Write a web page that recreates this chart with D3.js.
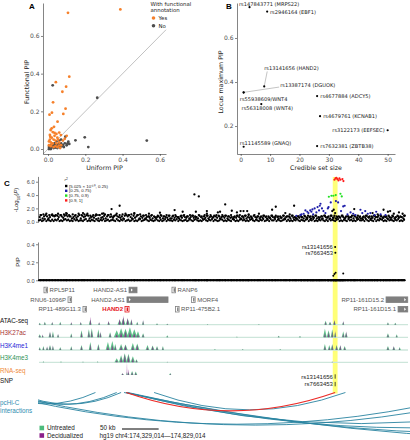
<!DOCTYPE html>
<html><head><meta charset="utf-8">
<script src="https://cdn.jsdelivr.net/npm/d3@7"></script>
<style>body{margin:0;background:#fff}svg{display:block}</style>
</head><body>
<svg id="c" width="410" height="440"></svg>
<script>
// ================= DATA =================
// Panel A: [uniform PIP, functional PIP]
const aYes = [[0.388,0.741],[0.107,0.723],[0.114,0.384],[0.042,0.355],[0.097,0.331],[0.077,0.304],[0.027,0.248],[0.094,0.214],[0.021,0.193],[0.082,0.186],[0.008,0.182],[0.051,0.145],[0.032,0.118],[0.014,0.101],[0.060,0.087],[0.069,0.074],[0.02,0.11],[0.025,0.09],[0.01,0.075],[0.035,0.07],[0.045,0.08],[0.05,0.06],[0.02,0.06],[0.03,0.05],[0.04,0.045],[0.01,0.05],[0.015,0.035],[0.025,0.03],[0.045,0.03],[0.055,0.05],[0.06,0.035],[0.07,0.02],[0.08,0.045],[0.005,0.02],[0.015,0.015],[0.03,0.01],[0.05,0.01],[0.065,0.005],[0.09,0.055],[0.1,0.07],[0.012,0.065],[0.035,0.085],[0.005,0.04],[0.02,0.025],[0.04,0.015],[0.058,0.018]];
const aNo = [[0.025,0.338],[0.264,0.272],[0.53,0.045],[0.197,0.062],[0.216,0.01],[0.147,0.046],[0.109,0.039],[0.114,0.027],[0.093,0.065],[0.105,0.03],[0.01,0.005],[0.02,0.01],[0.03,0.005],[0.04,0.02],[0.05,0.015],[0.06,0.02],[0.07,0.03],[0.08,0.02],[0.045,0.04],[0.035,0.03],[0.055,0.025],[0.065,0.01],[0.075,0.015],[0.09,0.03],[0.015,0.02],[0.025,0.015],[0.005,0.01],[0.05,0.005],[0.085,0.01],[0.06,0.045],[0.07,0.05],[0.04,0.008],[0.1,0.02],[0.005,0.0],[0.015,0.0],[0.03,0.02]];
const aTicks = [0, 0.2, 0.4, 0.6];

// Panel B
const bLabels = ["rs147843771 (MRPS22)","rs2946164 (EBF1)","rs13141656 (HAND2)","rs13387174 (DGUOK)","rs55938609/WNT4","rs56318008 (WNT4)","rs4677884 (ADCY5)","rs4679761 (KCNAB1)","rs3122173 (EEFSEC)","rs7632381 (ZBTB38)","rs11145589 (GNAQ)"];
const bSize = [3, 9, 8, 1, 1, 7, 26, 27, 50, 26, 1];
const bPip  = [0.74, 0.72, 0.38, 0.353, 0.352, 0.30, 0.336, 0.245, 0.181, 0.109, 0.106];
const bXTicks = [0, 10, 20, 30, 40, 50];
const bYTicks = [0.2, 0.4, 0.6];

// Panel C: Manhattan, -log10(P) in tenths (hex digit / 10)
const lowBand = ["2312413213","1324121342","3121423122","1341213214","2132412312","3214213241","2312412134","1234213212","4213124132","2132413212","3124213421","2134213241","3212431213","2143121342","3121342132","1324123142","2413212341","3121324213","2134132412","1324213142","3213412132","1423121342","2314213214","1324312142","3213241213"].join("");
const midBand = ["7a58a857a9","8a97a869a8","a857968a59","78a957869a","5a67958a78","69a876859a","8a75968a58","6957869586","7869587695","5968758697","6857968759","7586957869","8695786958","6758697586","9576859768","5869758697","6975869578","8596758697","5869758695","7685976859","6957869758","8679586975","5869785697","7958687596","6857968759"].join("");
const upperBand = ["abcab","9cabc","8baca","bc9ab","acbab","8cabc","abcab","9a8a7","9a8a9","8a79a","8a97a","8a9a7","a8a98","a79a8","9a7a8","79869","78698","79687","96879","68979","68796","87968","79689","79687","96879"].join("");
// [kb offset, -log10 P]
const blackHigh = [[99,1.9],[110,2.4],[212,4.1],[218,3.8],[254,2.6],[323,2.25],[348,2.4],[479,1.6],[470,1.8],[185,1.75],[196,1.5],[214,1.5],[229,1.6],[244,1.4],[247,1.5],[263,1.65],[270,1.4],[275,1.6],[279,1.6],[284,1.6],[286,1.1],[229,1.2],[318,1.8],[400,1.6],[402,1.8],[404,1.3],[430,1.9],[476,1.5],[484,1.2],[491,1.4],[37,1.3],[60,1.3],[88,1.25],[130,1.3],[150,1.2],[165,1.35],[300,1.2],[336,1.3],[342,1.1],[455,1.3],[462,1.1],[496,1.2]];
const bluePts = [[356.6,1.0],[361,1.2],[363.4,1.7],[366,1.5],[367.5,1.3],[370,1.7],[371.6,1.5],[373,1.85],[374,1.1],[376,2.0],[378.4,1.4],[380,2.2],[382,1.7],[383,2.4],[384,2.7],[386,2.0],[388,1.6],[390.7,1.3],[394,2.0],[395,2.2],[398,2.9],[405,3.1],[408,2.9],[412,1.6],[415,2.3],[417,2.4],[420.8,1.1],[425,1.4],[428.6,1.2],[431.7,1.0],[438.5,1.8],[441,1.3],[445,1.6],[448.5,1.2],[452,1.3],[457.7,1.0],[460,1.5],[466,1.1],[472.7,1.0],[358,1.1],[351,0.9]];
const greenPts = [[395.4,3.75],[398.9,3.9],[401.6,3.9],[404.8,4.0],[411.2,4.2],[413,3.8]];
const redPts = [[403,6.3],[404.4,6.5],[405.7,6.6],[407,6.4],[408.5,6.2],[409.8,6.5],[411.2,6.3],[413.9,6.4],[415.3,6.1]];
const mTicks = [0, 2, 4, 6];
const r2Labels = ["[5.025 × 10⁻¹⁰, 0.25)","[0.25, 0.75)","[0.75, 0.9)","[0.9, 1]"];
// PIP (non-zero SNPs)
const pipPts = [[404,0.37,"rs13141656"],[404.3,0.305,"rs7663453"],[401.5,0.05,""],[403,0.07,""],[404.6,0.085,""],[415,0.075,""]];
const pipTicks = [0, 0.2, 0.4];
const leadKb = 404;
// genes: name, start kb, end kb, row, label side
const geneNames = ["RPL5P11","HAND2-AS1","RANP6","RNU6-1096P","HAND2-AS1","MORF4","RP11-161D15.2","RP11-489G11.3","HAND2","RP11-475B2.1","RP11-161D15.1"];
const geneStart = [6.8,122.8,181.4,39.6,120,208,473.4,60,117.3,186.2,489.8];
const geneEnd   = [10.9,133.7,186.2,43.7,176,213,503,64.8,122.8,190.3,503];
const geneRow   = [0,0,0,1,1,1,1,2,2,2,2];
const geneSide  = ["r","l","r","l","l","r","l","l","l","r","l"];
// signal peaks: [kb, half width kb, untreated height, decidualized height]
const atacPeaks = [[1,1.5,0.2,0.15],[8,1.5,0.3,0.25],[18,1.5,0.25,0.3],[29,1.5,0.3,0.2],[44,1.5,0.2,0.3],[57,1.5,0.25,0.3],[70,2,0.5,0.8],[82,1.5,0.2,0.3],[95,2,0.3,0.4],[110,3,0.5,0.6],[115,3,0.7,0.9],[121,3,0.6,0.7],[126,2,0.5,0.6],[134,1.5,0.3,0.2],[142,1.5,0.4,0.5],[161,1.5,0.15,0.1],[175,1.5,0.1,0.1],[230,1,0.08,0.05],[300,1,0.08,0.05],[391,2,0.4,0.3],[397,2,0.3,0.25],[403,2,0.4,0.5],[415,1.5,0.3,0.4],[476,1.5,0.25,0.2],[486,1.5,0.2,0.15]];
const h3k27acPeaks = [[1,2,0.3,0.2],[5,1.5,0.2,0.3],[15,2,0.5,0.6],[19,1.5,0.6,0.4],[26,1.5,0.3,0.35],[44,1.5,0.4,0.3],[58,2,0.7,0.5],[68,2,0.8,0.6],[72,2,0.9,0.7],[81,2,0.8,0.5],[84,1.5,0.5,0.6],[97,2,0.5,0.4],[106,4,0.7,0.3],[112,4,0.9,0.5],[118,4,0.85,0.6],[124,4,1.0,0.5],[130,4,0.8,0.4],[135,3,0.6,0.3],[142,2,0.4,0.3],[175,1.5,0.2,0.1],[270,1,0.08,0.05],[327,1.5,0.15,0.1],[356,1.5,0.12,0.08],[390,2.5,0.85,0.4],[395,2.5,0.7,0.5],[400,2,0.8,0.6],[404,1.5,0.5,0.7],[415,2,0.6,0.4],[419,2,0.5,0.6],[476,2,0.4,0.3],[488,1.5,0.3,0.2]];
const h3k4me1Peaks = [[1,1.5,0.3,0.2],[6,1.5,0.4,0.3],[11,1.5,0.3,0.4],[15,2,0.5,0.4],[19,1.5,0.4,0.5],[29,1.5,0.3,0.2],[44,1.5,0.4,0.3],[58,2,0.5,0.4],[70,2,0.8,0.6],[81,2,0.6,0.5],[94,3,0.8,0.4],[100,3,0.9,0.5],[104,2,0.6,0.4],[112,3,0.6,0.4],[118,3,0.55,0.5],[128,3,0.7,0.4],[134,3,0.65,0.5],[148,2.5,0.5,0.3],[155,2.5,0.45,0.4],[161,2,0.4,0.3],[169,1.5,0.4,0.3],[240,1,0.1,0.05],[278,1,0.1,0.08],[329,1,0.1,0.05],[390,2,0.6,0.4],[396,2,0.5,0.3],[400,2,0.6,0.5],[406,2,0.5,0.4],[411,2,0.45,0.5],[417,2,0.4,0.3],[476,2,0.4,0.3],[484,2,0.35,0.4],[492,1.5,0.3,0.2]];
const h3k4me3Peaks = [[6,1,0.1,0.05],[30,1,0.1,0.05],[60,1,0.08,0.05],[80,1,0.1,0.05],[106,3,0.4,0.2],[112,3,0.7,0.5],[117,3,0.9,0.8],[122,3,0.85,0.7],[128,3,0.6,0.4],[133,2,0.3,0.2],[175,1,0.05,0.05],[400,1,0.08,0.05]];
const rnaPeaks = [[114,2,0.15,0.2],[120,1,0.3,1.3],[122,1.5,0.3,0.6],[127,2,0.4,0.3],[132,2,0.35,0.25],[179,1.5,0.2,0.15]];
const trackNames = ["ATAC-seq","H3K27ac","H3K4me1","H3K4me3","RNA-seq"];
// SNP row
const snpNames = ["rs13141656","rs7663453"];
// pcHi-C interactions [kb start, kb end]
const arcsTeal = [[-60,77],[-40,106],[-30,112],[-60,600],[-50,640],[119,760],[119,900],[121,1100],[116,1350],[157,418]];
const arcsRed = [[119,404]];

// ================= DRAW =================
const svg = d3.select("#c");
const FA = "DejaVu Sans, sans-serif";
const FC = "Liberation Sans, Arial, sans-serif";
function styleAxis(g, fs, ff){
  g.attr("font-size", fs).attr("font-family", ff);
  g.select(".domain").attr("stroke","#333").attr("stroke-width",0.6);
  g.selectAll(".tick line").attr("stroke","#333").attr("stroke-width",0.6);
  g.selectAll(".tick text").attr("fill","#4d4d4d");
}

// ---------- Panel A ----------
const xA = d3.scaleLinear([-0.027,0.633],[43,166]);
const yA = d3.scaleLinear([-0.0265,0.775],[154,3]);
const gA = svg.append("g");
gA.append("line").attr("x1",xA(-0.027)).attr("y1",yA(-0.027)).attr("x2",xA(0.633)).attr("y2",yA(0.633))
  .attr("stroke","#a6a6a6").attr("stroke-width",0.7);
gA.append("g").attr("transform","translate(0,154)")
  .call(d3.axisBottom(xA).tickValues(aTicks).tickFormat(d3.format(".1f")).tickSize(2).tickSizeOuter(0).tickPadding(1.5))
  .call(g=>styleAxis(g,6,FA));
gA.append("g").attr("transform","translate(43,0)")
  .call(d3.axisLeft(yA).tickValues(aTicks).tickFormat(d3.format(".1f")).tickSize(2).tickSizeOuter(0).tickPadding(1.5))
  .call(g=>styleAxis(g,6,FA));
gA.selectAll("circle.no").data(aNo).join("circle").attr("class","no")
  .attr("cx",d=>xA(d[0])).attr("cy",d=>yA(d[1])).attr("r",1.4).attr("fill","#4d4d4d");
gA.selectAll("circle.yes").data(aYes).join("circle").attr("class","yes")
  .attr("cx",d=>xA(d[0])).attr("cy",d=>yA(d[1])).attr("r",1.4).attr("fill","#f6802a");
gA.append("text").attr("x",104.5).attr("y",170).attr("text-anchor","middle").attr("font-family",FA).attr("font-size",6.3).attr("fill","#222").text("Uniform PIP");
gA.append("text").attr("transform","translate(29,82) rotate(-90)").attr("text-anchor","middle").attr("font-family",FA).attr("font-size",6.3).attr("fill","#222").text("Functional PIP");
gA.append("text").attr("x",29).attr("y",9).attr("font-family",FC).attr("font-weight","bold").attr("font-size",8).text("A");
// legend
const lg = gA.append("g").attr("font-family",FA).attr("font-size",5.4).attr("fill","#222");
lg.append("text").attr("x",150.5).attr("y",5.5).text("With functional");
lg.append("text").attr("x",150.5).attr("y",12).text("annotation");
[["Yes","#f6802a",18],["No","#4d4d4d",25.8]].forEach(([t,c,y])=>{
  lg.append("circle").attr("cx",153.5).attr("cy",y).attr("r",1.8).attr("fill",c);
  lg.append("text").attr("x",158.5).attr("y",y+2).text(t);
});

// ---------- Panel B ----------
const xB = d3.scaleLinear([-1.26,52.5],[237,395]);
const yB = d3.scaleLinear([0.073,0.759],[154,3]);
const gB = svg.append("g");
gB.append("g").attr("transform","translate(0,154)")
  .call(d3.axisBottom(xB).tickValues(bXTicks).tickSize(2).tickSizeOuter(0).tickPadding(1.5))
  .call(g=>styleAxis(g,6,FA));
gB.append("g").attr("transform","translate(237,0)")
  .call(d3.axisLeft(yB).tickValues(bYTicks).tickFormat(d3.format(".1f")).tickSize(2).tickSizeOuter(0).tickPadding(1.5))
  .call(g=>styleAxis(g,6,FA));
gB.append("text").attr("x",316).attr("y",170).attr("text-anchor","middle").attr("font-family",FA).attr("font-size",6.3).attr("fill","#222").text("Credible set size");
gB.append("text").attr("transform","translate(223,82) rotate(-90)").attr("text-anchor","middle").attr("font-family",FA).attr("font-size",6.3).attr("fill","#222").text("Locus maximum PIP");
gB.append("text").attr("x",226).attr("y",9).attr("font-family",FC).attr("font-weight","bold").attr("font-size",8).text("B");
const bPts = bLabels.map((l,i)=>({l, x:xB(bSize[i]), y:yB(bPip[i])}));
// label offsets [dx, dy (text centre), anchor, leader]
const bOff = [[-10.5,-3.3,"start",0],[2.8,0.6,"start",0],[0,-18.5,"start",1],[36.5,-6.8,"start",1],[-3.8,6.5,"start",0],[-19.7,4.3,"start",0],[3.2,0,"start",0],[3.2,0,"start",0],[-3,0,"end",0],[3.2,0,"start",0],[-3.8,-4,"start",0]];
bPts.forEach((p,i)=>{
  const o = bOff[i];
  if(o[3]){
    const tx = p.x+o[0]+(i===2?3:-1), ty = p.y+o[1]+(i===2?3.5:1.5);
    gB.append("line").attr("x1",p.x).attr("y1",p.y).attr("x2",tx).attr("y2",ty).attr("stroke","#888").attr("stroke-width",0.5);
  }
  gB.append("text").attr("x",p.x+o[0]).attr("y",p.y+o[1]+1.8).attr("text-anchor",o[2])
    .attr("font-family",FA).attr("font-size",5.1).attr("fill","#222").text(p.l);
});
gB.selectAll("circle.b").data(bPts).join("circle").attr("class","b")
  .attr("cx",d=>d.x).attr("cy",d=>d.y).attr("r",1.1).attr("fill","#000");

// ---------- Panel C ----------
const xC = d3.scaleLinear([0,502],[39,407]);
const yM = d3.scaleLinear([-0.1,6.8],[222.4,176.4]);
const yP = d3.scaleLinear([-0.005,0.425],[280.75,242]);
const hex = c=>parseInt(c,16)/10;
const bg = [];
lowBand.split("").forEach((c,i)=>bg.push([i*2, hex(c)]));
midBand.split("").forEach((c,i)=>bg.push([i*2+1, hex(c)]));
upperBand.split("").forEach((c,i)=>bg.push([i*4+2, hex(c)]));
blackHigh.forEach(d=>bg.push(d));
const gC = svg.append("g");
// yellow highlight
gC.append("rect").attr("x",xC(leadKb)-2.4).attr("y",177).attr("width",4.8).attr("height",216.5).attr("fill","#ffff78");
gC.append("text").attr("x",4).attr("y",186).attr("font-family",FC).attr("font-weight","bold").attr("font-size",8).text("C");
gC.append("g").attr("transform","translate(38,0)")
  .call(d3.axisLeft(yM).tickValues(mTicks).tickSize(2).tickSizeOuter(0).tickPadding(1.5))
  .call(g=>styleAxis(g,5.6,FC));
gC.append("g").attr("transform","translate(38,0)")
  .call(d3.axisLeft(yP).tickValues(pipTicks).tickFormat(d3.format(".1f")).tickSize(2).tickSizeOuter(0).tickPadding(1.5))
  .call(g=>styleAxis(g,5.6,FC));
const yl = gC.append("text").attr("transform","translate(18,200) rotate(-90)").attr("text-anchor","middle").attr("font-family",FC).attr("font-size",6).attr("fill","#222");
yl.append("tspan").text("-Log");
yl.append("tspan").attr("font-size",4.2).attr("dy",1.5).text("10");
yl.append("tspan").attr("dy",-1.5).text("(");
yl.append("tspan").attr("font-style","italic").text("P");
yl.append("tspan").text(")");
gC.append("text").attr("transform","translate(19.5,262) rotate(-90)").attr("text-anchor","middle").attr("font-family",FC).attr("font-size",6).attr("fill","#222").text("PIP");
// manhattan points
const mp = gC.append("g");
mp.selectAll("circle.bg").data(bg).join("circle").attr("class","bg").attr("cx",d=>xC(d[0])).attr("cy",d=>yM(d[1])).attr("r",1.15).attr("fill","#000");
[[bluePts,"#1c1ca8"],[greenPts,"#22e022"],[redPts,"#ff1a1a"]].forEach(([arr,col])=>{
  mp.selectAll(null).data(arr).join("circle").attr("cx",d=>xC(d[0])).attr("cy",d=>yM(d[1])).attr("r",1.1).attr("fill",col);
});
// r2 legend
const rl = gC.append("g").attr("font-family",FC).attr("font-size",4.4).attr("fill","#222");
const r2t = rl.append("text").attr("x",64.5).attr("y",181);
r2t.append("tspan").attr("font-style","italic").text("r");
r2t.append("tspan").attr("font-size",3.2).attr("dy",-1.5).text("2");
["#000","#1c1ca8","#22e022","#ff1a1a"].forEach((c,i)=>{
  const y = 186 + i*4.8;
  rl.append("rect").attr("x",65).attr("y",y-1.2).attr("width",2.4).attr("height",2.4).attr("fill",c);
  rl.append("text").attr("x",69).attr("y",y+1.5).text(r2Labels[i]);
});
// PIP points
const pipBg = bg.concat(bluePts, greenPts, redPts);
mp.selectAll("circle.pb").data(pipBg).join("circle").attr("class","pb").attr("cx",d=>xC(d[0])).attr("cy",yP(0)).attr("r",1.05).attr("fill","#000");
mp.selectAll("circle.pp").data(pipPts).join("circle").attr("class","pp").attr("cx",d=>xC(d[0])).attr("cy",d=>yP(d[1])).attr("r",1.0).attr("fill","#000");
pipPts.filter(d=>d[2]).forEach(d=>{
  gC.append("text").attr("x",xC(d[0])-2.5).attr("y",yP(d[1])+2).attr("text-anchor","end").attr("font-family",FC).attr("font-size",5.8).attr("fill","#222").text(d[2]);
});
// genes
const rowY = [290, 299.7, 309.2];
const gg = gC.append("g");
geneNames.forEach((n,i)=>{
  const x0 = xC(geneStart[i]), x1 = Math.min(xC(geneEnd[i]), 408.5), y = rowY[geneRow[i]];
  const red = n==="HAND2";
  const col = red ? "#e5141b" : "#7f7f7f";
  const w = Math.max(x1-x0, 3.6);
  gg.append("rect").attr("x",x0).attr("y",y-2.8).attr("width",w).attr("height",5.6).attr("fill",w>6?col:"#fff").attr("stroke",col).attr("stroke-width",0.8);
  if(w>6){
    const ax = geneSide[i]==="l" && n!=="RP11-161D15.2" && n!=="RP11-161D15.1" ? x0+2 : x0+w-3.5;
    gg.append("path").attr("d",`M${ax},${y-1.6}L${ax+1.8},${y}L${ax},${y+1.6}Z`).attr("fill","#fff");
  } else {
    gg.append("rect").attr("x",x0+1.6).attr("y",y-1.8).attr("width",1.4).attr("height",3.6).attr("fill",col);
  }
  const t = gg.append("text").attr("y",y+2.1).attr("font-family",FC).attr("font-size",6).attr("fill",red?"#e5141b":"#555");
  if(red) t.attr("font-weight","bold");
  if(geneSide[i]==="l") t.attr("x",x0-2).attr("text-anchor","end"); else t.attr("x",x0+w+2);
  t.text(n);
});
// tracks
const baseY = [324.7, 337.3, 350, 362.3, 375];
const trackCol = ["#111","#a93232","#2525d6","#2e9155","#f08a3a"];
const trackData = [atacPeaks, h3k27acPeaks, h3k4me1Peaks, h3k4me3Peaks, rnaPeaks];
const GREEN = "#4dbb7c", PURPLE = "#8a1e8a";
trackData.forEach((peaks,ti)=>{
  const b = baseY[ti];
  const yS = d3.scaleLinear([0,1],[b, b-10]);
  if(ti<4) gC.append("line").attr("x1",39).attr("x2",408).attr("y1",b).attr("y2",b).attr("stroke","#cde6db").attr("stroke-width",1.3);
  const area = d3.area().x(d=>xC(d[0])).y0(b).y1(d=>yS(d[1]));
  gC.append("g").selectAll("path").data(peaks).join("path")
    .attr("d",p=>area([[p[0]-p[1],0],[p[0],p[2]],[p[0]+p[1],0]])).attr("fill",GREEN).attr("opacity",0.9);
  gC.append("g").selectAll("path").data(peaks).join("path")
    .attr("d",p=>area([[p[0]-p[1]*0.45,0],[p[0],p[3]],[p[0]+p[1]*0.45,0]])).attr("fill",PURPLE).attr("opacity",0.75);
  gC.append("text").attr("x",0).attr("y",b-2).attr("font-family",FC).attr("font-size",6.3).attr("fill",trackCol[ti]).text(trackNames[ti]);
});
// SNP row
gC.append("text").attr("x",0).attr("y",382.8).attr("font-family",FC).attr("font-size",6.3).attr("fill","#111").text("SNP");
snpNames.forEach((s,i)=>{
  const y = 376.5 + i*7.6;
  gC.append("text").attr("x",xC(leadKb)-2.2).attr("y",y+2.1).attr("text-anchor","end").attr("font-family",FC).attr("font-size",6).attr("fill","#222").text(s);
  gC.append("line").attr("x1",xC(leadKb)).attr("x2",xC(leadKb)).attr("y1",y-2.2).attr("y2",y+2.2).attr("stroke","#000").attr("stroke-width",0.7);
});
// pcHi-C arcs
svg.append("defs").append("clipPath").attr("id","arcclip").append("rect").attr("x",38).attr("y",386).attr("width",372).attr("height",54);
const arcY = 392.5;
function arcPath(d){
  const x1 = xC(d[0]), x2 = xC(d[1]);
  const depth = 0.57*Math.pow(Math.abs(x2-x1),0.65);
  return `M${x1},${arcY}Q${(x1+x2)/2},${arcY+2*depth} ${x2},${arcY}`;
}
const ag = gC.append("g").attr("clip-path","url(#arcclip)").attr("fill","none");
ag.selectAll("path.t").data(arcsTeal).join("path").attr("class","t").attr("d",arcPath).attr("stroke","#2a84a1").attr("stroke-width",1).attr("opacity",0.9);
ag.selectAll("path.r").data(arcsRed).join("path").attr("class","r").attr("d",arcPath).attr("stroke","#ec2a26").attr("stroke-width",1.2);
gC.append("text").attr("x",0).attr("y",405).attr("font-family",FC).attr("font-size",6.3).attr("fill","#2f8db0").text("pcHi-C");
gC.append("text").attr("x",0).attr("y",412.7).attr("font-family",FC).attr("font-size",6.3).attr("fill","#2f8db0").text("interactions");
// bottom legend
const bl = gC.append("g").attr("font-family",FC).attr("font-size",6.3).attr("fill","#222");
[["Untreated",GREEN,428],["Decidualized",PURPLE,435.5]].forEach(([t,c,y])=>{
  bl.append("rect").attr("x",39.5).attr("y",y-2.3).attr("width",4.6).attr("height",4.6).attr("fill",c);
  bl.append("text").attr("x",47).attr("y",y+2.2).text(t);
});
bl.append("text").attr("x",100).attr("y",430.3).text("50 kb");
bl.append("line").attr("x1",122).attr("x2",122+xC(50)-xC(0)).attr("y1",429).attr("y2",429).attr("stroke","#000").attr("stroke-width",1);
bl.append("text").attr("x",99.5).attr("y",437.8).text("hg19 chr4:174,329,014\u2014174,829,014");
</script>
</body></html>
